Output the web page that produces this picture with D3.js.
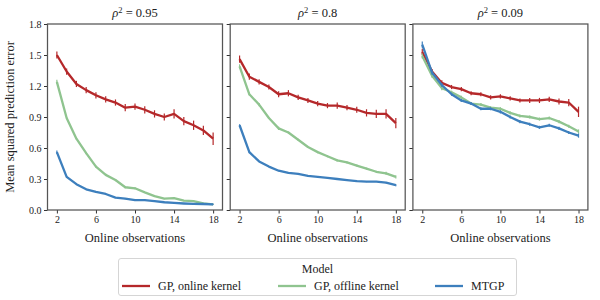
<!DOCTYPE html>
<html>
<head>
<meta charset="utf-8">
<script src="https://cdn.jsdelivr.net/npm/d3@7"></script>
<style>
body { margin: 0; background: #fff; }
svg text { font-family: "Liberation Serif", serif; fill: #222; }
</style>
</head>
<body>
<div id="chart"></div>
<script>
var steps = [2,3,4,5,6,7,8,9,10,11,12,13,14,15,16,17,18];
var panelTitles = ['0.95', '0.8', '0.09'];
var seriesNames = ['GP, online kernel', 'GP, offline kernel', 'MTGP'];
var colors = ['#b5282a', '#8fc48f', '#3d7fbd'];
var yTicks = [0, 0.3, 0.6, 0.9, 1.2, 1.5, 1.8];
var xTicks = [2, 6, 10, 14, 18];

// rho^2 = 0.95
var online95  = [1.50,1.34,1.22,1.16,1.11,1.07,1.04,0.99,1.00,0.97,0.93,0.90,0.93,0.86,0.82,0.77,0.69];
var offline95 = [1.24,0.89,0.69,0.55,0.42,0.34,0.29,0.22,0.21,0.17,0.135,0.11,0.115,0.09,0.085,0.065,0.055];
var mtgp95    = [0.56,0.32,0.25,0.20,0.175,0.155,0.12,0.11,0.095,0.095,0.085,0.075,0.068,0.063,0.06,0.058,0.055];
var onlineErr95  = [0.035,0.03,0.03,0.03,0.03,0.03,0.03,0.035,0.03,0.035,0.035,0.035,0.045,0.04,0.045,0.045,0.06];
var offlineErr95 = [0.02,0.01,0.01,0.01,0.01,0.01,0.01,0.01,0.01,0.005,0.005,0.005,0.005,0.005,0.005,0.005,0.005];
var mtgpErr95    = [0.015,0.01,0.005,0.005,0.005,0.005,0.005,0.005,0.005,0.005,0.005,0.005,0.005,0.005,0.005,0.005,0.005];
// rho^2 = 0.8
var online8  = [1.46,1.29,1.24,1.19,1.12,1.13,1.09,1.06,1.03,1.01,1.01,0.99,0.97,0.94,0.93,0.93,0.84];
var offline8 = [1.39,1.12,1.02,0.89,0.79,0.75,0.68,0.61,0.56,0.52,0.48,0.46,0.43,0.40,0.37,0.355,0.32];
var mtgp8    = [0.82,0.56,0.47,0.42,0.38,0.36,0.35,0.33,0.32,0.31,0.30,0.29,0.28,0.275,0.275,0.265,0.24];
var onlineErr8  = [0.035,0.03,0.025,0.025,0.03,0.03,0.025,0.025,0.025,0.025,0.03,0.025,0.03,0.035,0.04,0.045,0.05];
var offlineErr8 = [0.02,0.015,0.015,0.01,0.015,0.01,0.01,0.01,0.01,0.01,0.01,0.01,0.01,0.01,0.01,0.015,0.015];
var mtgpErr8    = [0.01,0.01,0.005,0.005,0.005,0.005,0.005,0.005,0.005,0.005,0.005,0.005,0.005,0.005,0.005,0.005,0.01];
// rho^2 = 0.09
var online09  = [1.53,1.34,1.23,1.19,1.17,1.13,1.12,1.09,1.10,1.08,1.06,1.06,1.06,1.07,1.05,1.04,0.95];
var offline09 = [1.49,1.30,1.18,1.14,1.09,1.03,1.02,0.99,0.98,0.94,0.91,0.90,0.88,0.89,0.855,0.81,0.76];
var mtgp09    = [1.60,1.33,1.21,1.12,1.06,1.03,0.98,0.98,0.95,0.90,0.855,0.83,0.80,0.82,0.79,0.75,0.72];
var onlineErr09  = [0.03,0.025,0.025,0.02,0.02,0.02,0.02,0.02,0.02,0.02,0.02,0.025,0.025,0.025,0.03,0.035,0.05];
var offlineErr09 = [0.025,0.02,0.02,0.015,0.015,0.015,0.015,0.015,0.015,0.015,0.015,0.015,0.015,0.015,0.015,0.015,0.02];
var mtgpErr09    = [0.03,0.02,0.02,0.015,0.015,0.015,0.015,0.015,0.015,0.015,0.015,0.015,0.015,0.015,0.015,0.015,0.02];

var panels = [
    { title: panelTitles[0], series: [online95, offline95, mtgp95], err: [onlineErr95, offlineErr95, mtgpErr95] },
    { title: panelTitles[1], series: [online8, offline8, mtgp8], err: [onlineErr8, offlineErr8, mtgpErr8] },
    { title: panelTitles[2], series: [online09, offline09, mtgp09], err: [onlineErr09, offlineErr09, mtgpErr09] }
];

var width = 600, height = 300;
var plotTop = 24, plotBottom = 210;
var panelW = 175, panelGap = 7.7, left0 = 47.5;

var svg = d3.select('#chart').append('svg')
    .attr('width', width)
    .attr('height', height)
    .attr('font-family', '"Liberation Serif", serif');

var yScale = d3.scaleLinear().domain([0, 1.8]).range([plotBottom, plotTop]);

panels.forEach(function (p, i) {
    var x0 = left0 + i * (panelW + panelGap);
    var xScale = d3.scaleLinear().domain([1.04, 18.96]).range([x0, x0 + panelW]);

    var g = svg.append('g');

    var xAxis = d3.axisBottom(xScale).tickValues(xTicks).tickSize(3.5).tickPadding(2.5);
    var yAxis = d3.axisLeft(yScale).tickValues(yTicks).tickSize(3.5).tickPadding(2.5)
        .tickFormat(i === 0 ? d3.format('.1f') : function () { return ''; });

    var xg = g.append('g').attr('transform', 'translate(0,' + plotBottom + ')').call(xAxis);
    var yg = g.append('g').attr('transform', 'translate(' + x0 + ',0)').call(yAxis);
    [xg, yg].forEach(function (a) {
        a.attr('font-family', '"Liberation Serif", serif').attr('font-size', 10);
        a.select('.domain').remove();
        a.selectAll('line').attr('stroke', '#333').attr('stroke-width', 1);
        a.selectAll('text').attr('fill', '#333');
    });

    // lines, drawn in order: online, offline, MTGP
    var line = d3.line()
        .x(function (d, j) { return xScale(steps[j]); })
        .y(function (d) { return yScale(d); });

    p.series.forEach(function (vals, s) {
        var errs = p.err[s];
        g.append('path')
            .datum(vals)
            .attr('fill', 'none')
            .attr('stroke', colors[s])
            .attr('stroke-width', 2.3)
            .attr('stroke-linejoin', 'round')
            .attr('d', line);
        g.selectAll('.err' + i + '_' + s)
            .data(vals)
            .enter()
            .append('line')
            .attr('class', 'err' + i + '_' + s)
            .attr('x1', function (d, j) { return xScale(steps[j]); })
            .attr('x2', function (d, j) { return xScale(steps[j]); })
            .attr('y1', function (d, j) { return yScale(d - errs[j]); })
            .attr('y2', function (d, j) { return yScale(d + errs[j]); })
            .attr('stroke', colors[s])
            .attr('stroke-width', 1.2);
    });

    // frame
    g.append('rect')
        .attr('x', x0).attr('y', plotTop)
        .attr('width', panelW).attr('height', plotBottom - plotTop)
        .attr('fill', 'none')
        .attr('stroke', '#555')
        .attr('stroke-width', 1.25);

    // title
    var t = g.append('text')
        .attr('x', x0 + panelW / 2)
        .attr('y', 17)
        .attr('text-anchor', 'middle')
        .attr('font-size', 12.5);
    t.append('tspan').attr('font-style', 'italic').text('ρ');
    t.append('tspan').attr('font-size', 8.5).attr('dy', -4.5).text('2');
    t.append('tspan').attr('dy', 4.5).text(' = ' + p.title);

    g.append('text')
        .attr('x', x0 + panelW / 2)
        .attr('y', 242)
        .attr('text-anchor', 'middle')
        .attr('font-size', 12.5)
        .text('Online observations');
});

svg.append('text')
    .attr('transform', 'translate(14,' + ((plotTop + plotBottom) / 2) + ') rotate(-90)')
    .attr('text-anchor', 'middle')
    .attr('font-size', 12.5)
    .text('Mean squared prediction error');

// legend
var leg = svg.append('g');
leg.append('rect')
    .attr('x', 118.5).attr('y', 258.5)
    .attr('width', 398).attr('height', 37)
    .attr('rx', 2.5)
    .attr('fill', '#fff')
    .attr('stroke', '#d0d0d0')
    .attr('stroke-width', 0.9);
leg.append('text')
    .attr('x', 317.5).attr('y', 272.5)
    .attr('text-anchor', 'middle')
    .attr('font-size', 12)
    .text('Model');
var legX = [122, 278, 435];
seriesNames.forEach(function (name, s) {
    leg.append('line')
        .attr('x1', legX[s]).attr('x2', legX[s] + 28)
        .attr('y1', 286).attr('y2', 286)
        .attr('stroke', colors[s])
        .attr('stroke-width', 2.3);
    leg.append('text')
        .attr('x', legX[s] + 36).attr('y', 290)
        .attr('font-size', 12)
        .text(name);
});
</script>
</body>
</html>
